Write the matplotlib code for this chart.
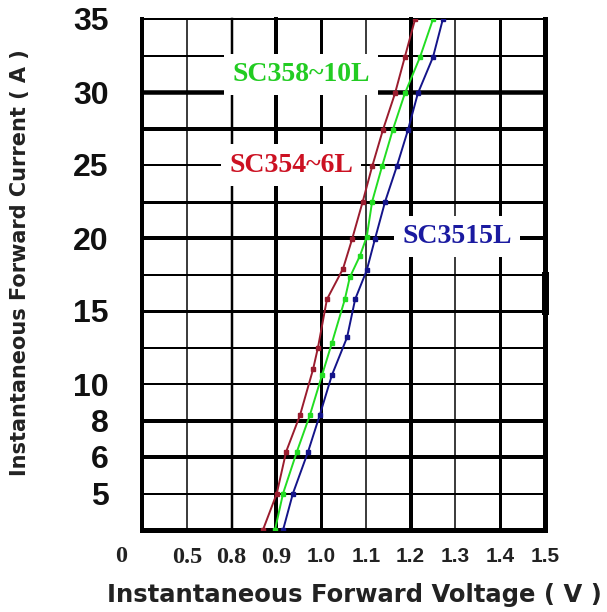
import numpy as np
import matplotlib
matplotlib.use('Agg')
import matplotlib.pyplot as plt

# ---------------- data ----------------
red_v = [0.870, 0.901, 0.922, 0.953, 0.982, 0.993, 1.013, 1.049, 1.069, 1.093, 1.114, 1.138, 1.165, 1.187, 1.210]
red_i = [4.0, 5.0, 6.3, 8.3, 11.0, 12.5, 15.8, 17.9, 19.9, 22.5, 24.9, 27.4, 29.9, 32.4, 35.0]

green_v = [0.897, 0.915, 0.946, 0.975, 1.002, 1.024, 1.053, 1.064, 1.087, 1.102, 1.114, 1.136, 1.160, 1.187, 1.221, 1.250]
green_i = [4.0, 5.0, 6.3, 8.3, 10.6, 12.8, 15.8, 17.3, 18.8, 20.1, 22.5, 24.9, 27.4, 29.9, 32.4, 35.0]

blue_v = [0.915, 0.937, 0.971, 0.997, 1.024, 1.058, 1.076, 1.102, 1.120, 1.143, 1.169, 1.194, 1.216, 1.250, 1.272]
blue_i = [4.0, 5.0, 6.3, 8.3, 10.6, 13.2, 15.8, 17.8, 19.9, 22.5, 24.9, 27.4, 29.9, 32.4, 35.0]

series_names = ["SC354~6L", "SC358~10L", "SC3515L"]

x_tick_values = [0.5, 0.8, 0.9, 1.0, 1.1, 1.2, 1.3, 1.4, 1.5]
x_tick_labels = ["0.5", "0.8", "0.9", "1.0", "1.1", "1.2", "1.3", "1.4", "1.5"]
y_tick_values = [5, 6, 8, 10, 15, 20, 25, 30, 35]
y_tick_labels = ["5", "6", "8", "10", "15", "20", "25", "30", "35"]

# grid-paper lines (values) and their weights
v_grid = [0.3, 0.5, 0.8, 0.9, 1.0, 1.1, 1.2, 1.3, 1.4, 1.5]
i_grid = [4, 5, 6, 8, 10, 12.5, 15, 17.5, 20, 22.5, 25, 27.5, 30, 32.5, 35]

# ---------------- non-uniform scales of the chart paper ----------------
xk_v = np.array([0.3, 0.5, 0.8, 0.9, 1.5])
xk_p = np.array([0.0, 1.0, 2.0, 3.0, 9.0])
yk_i = np.array([4.0, 5.0, 6.0, 8.0, 10.0, 35.0])
yk_p = np.array([0.0, 1.0, 2.0, 3.0, 4.0, 14.0])

def xf(v):
    return np.interp(v, xk_v, xk_p)
def xi(p):
    return np.interp(p, xk_p, xk_v)
def yf(v):
    return np.interp(v, yk_i, yk_p)
def yi(p):
    return np.interp(p, yk_p, yk_i)

PX = 0.72  # px -> pt at 100 dpi

fig = plt.figure(figsize=(6.07, 6.12), dpi=100)
W, H = 607, 612
ax = fig.add_axes([142 / W, 82 / H, 403 / W, 511 / H])
ax.set_xscale('function', functions=(xf, xi))
ax.set_yscale('function', functions=(yf, yi))
ax.set_xlim(0.3, 1.5)
ax.set_ylim(4, 35)
for s in ax.spines.values():
    s.set_visible(False)

v_w = [4, 1.5, 2.5, 4, 3, 1.5, 4, 1.5, 3, 5]
i_w = [5, 2, 4, 4, 2, 2, 3, 2, 4, 3, 2, 4, 4.5, 2, 2]
for v, w in zip(v_grid, v_w):
    ax.axvline(v, color='black', lw=w * PX, zorder=2, clip_on=False)
for yv, w in zip(i_grid, i_w):
    ax.axhline(yv, color='black', lw=w * PX, zorder=2, clip_on=False)
# thicker piece on the right border
ax.axvline(1.5, ymin=6 / 14, ymax=7 / 14, color='black', lw=7 * PX, zorder=2, clip_on=False)

# curves
ax.plot(red_v, red_i, color='#9a1c2e', lw=1.4, marker='s', ms=3.2, zorder=5, clip_on=True)
ax.plot(green_v, green_i, color='#22dd22', lw=1.4, marker='s', ms=3.2, zorder=5, clip_on=True)
ax.plot(blue_v, blue_i, color='#14148a', lw=1.4, marker='s', ms=3.2, zorder=5, clip_on=True)

lab_font = dict(family='Liberation Serif', weight='bold', fontsize=20)
box = dict(boxstyle='square,pad=0.3', fc='white', ec='none')
ax.text(0.955, 31.2, series_names[1], color='#22cc22', ha='center', va='center', bbox=box, zorder=3, **lab_font)
ax.text(0.933, 25.0, series_names[0], color='#cc1122', ha='center', va='center', bbox=box, zorder=3, **lab_font)
ax.text(1.303, 20.1, series_names[2], color='#1a1aa0', ha='center', va='center', bbox=box, zorder=3, **lab_font)

# ticks
ax.set_xticks(x_tick_values)
ax.set_xticklabels(x_tick_labels)
ax.set_yticks(y_tick_values)
ax.set_yticklabels(y_tick_labels)
ax.tick_params(axis='both', length=0)
ax.tick_params(axis='x', pad=12)
ax.tick_params(axis='y', pad=24)
for lab in ax.get_yticklabels():
    lab.set_fontfamily('Liberation Sans')
    lab.set_fontweight('bold')
    lab.set_fontsize(23)
    lab.set_color('#111111')
for lab in ax.get_xticklabels():
    t = lab.get_text()
    if t.startswith('0'):
        lab.set_fontfamily('Liberation Serif')
        lab.set_fontsize(17.5)
    else:
        lab.set_fontfamily('Liberation Sans')
        lab.set_fontsize(15)
    lab.set_fontweight('bold')
    lab.set_color('#222222')

fig.text(121 / W, 1 - 556 / H, "0", ha='center', va='center', family='Liberation Serif',
         weight='bold', fontsize=17.5, color='#222222')

fig.text(354 / W, 1 - 602 / H, "Instantaneous Forward Voltage ( V )", ha='center', va='baseline',
         family='DejaVu Sans', weight='bold', fontsize=17.5, color='#222222')
fig.text(20 / W, 1 - 263 / H, "Instantaneous Forward Current ( A )", ha='center', va='center',
         rotation=90, family='DejaVu Sans', weight='bold', fontsize=15, color='#222222')

fig.savefig('out.png', dpi=100)
